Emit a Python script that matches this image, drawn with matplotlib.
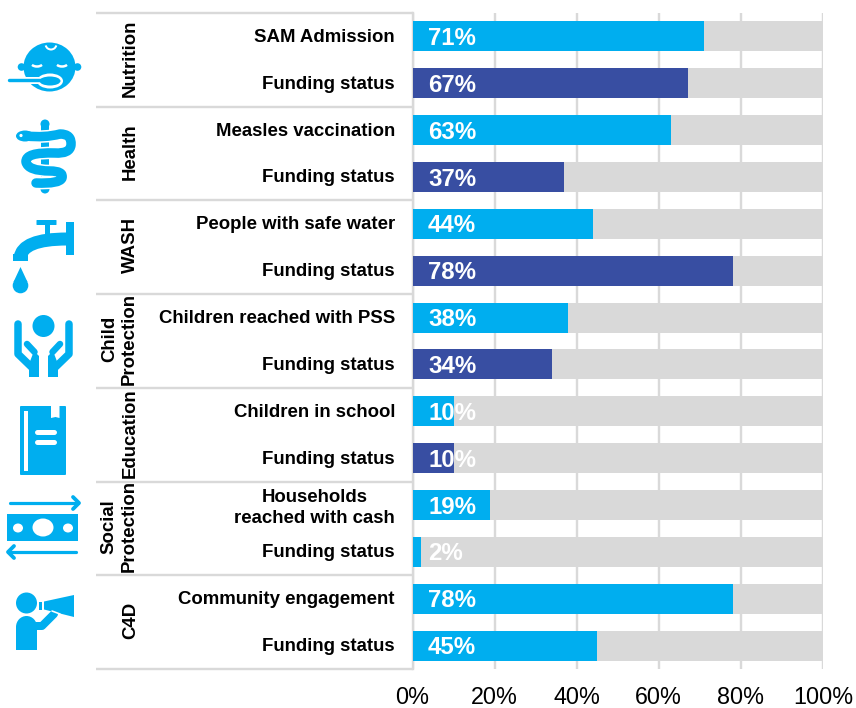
import matplotlib
matplotlib.use("Agg")
import matplotlib.pyplot as plt
from matplotlib.patches import Circle, Ellipse, Polygon, Rectangle, FancyBboxPatch, PathPatch, Arc
from matplotlib.path import Path
from matplotlib.transforms import ScaledTranslation

plt.rcParams["font.family"] = ["Liberation Sans", "DejaVu Sans"]

# Indicator rows, top to bottom
indicators = ["SAM Admission", "Funding status", "Measles vaccination", "Funding status",
              "People with safe water", "Funding status", "Children reached with PSS", "Funding status",
              "Children in school", "Funding status", "Households\nreached with cash", "Funding status",
              "Community engagement", "Funding status"]
values = [71, 67, 63, 37, 44, 78, 38, 34, 10, 10, 19, 2, 78, 45]
sectors = ["Nutrition", "Health", "WASH", "Child\nProtection", "Education", "Social\nProtection", "C4D"]
xticks = [0, 20, 40, 60, 80, 100]

CYAN = "#00AEEF"
NAVY = "#384EA2"
GRAY = "#D9D9D9"
bar_colors = [CYAN, NAVY, CYAN, NAVY, CYAN, NAVY, CYAN, NAVY, CYAN, NAVY, CYAN, CYAN, CYAN, CYAN]

W, H = 856, 708
fig = plt.figure(figsize=(W / 100, H / 100), dpi=100, facecolor="white")
left, right, top, bottom = 412.5, 823.0, 13.0, 669.0
ax = fig.add_axes([left / W, 1 - bottom / H, (right - left) / W, (bottom - top) / H])


def px(n):
    """Pixels to points at this figure's resolution."""
    return n * 0.72


rows = list(range(len(values)))
ax.barh(rows, [100] * len(rows), height=0.64, color=GRAY, zorder=2)
ax.barh(rows, values, height=0.64, color=bar_colors, zorder=3)
ax.set_xlim(0, 100)
ax.set_ylim(len(rows) - 0.5, -0.5)

ax.set_xticks(xticks)
ax.set_xticklabels([f"{t}%" for t in xticks], fontsize=16.8, color="black")
ax.tick_params(axis="x", length=0, pad=px(16.5))
ax.grid(axis="x", color=GRAY, linewidth=px(2.4), zorder=1)
ax.set_axisbelow(True)
for spine in ax.spines.values():
    spine.set_visible(False)

# Row labels, right aligned against the bars
ax.set_yticks(rows)
ax.set_yticklabels(indicators, fontsize=13.4, fontweight="bold", multialignment="center", linespacing=1.3)
ax.tick_params(axis="y", length=0, pad=px(17.5))
nudge = ScaledTranslation(0, 1 / 100, fig.dpi_scale_trans)
for label in ax.get_yticklabels():
    label.set_transform(label.get_transform() + nudge)

# Percentages sit at a fixed offset from the bar origin
for r, v in zip(rows, values):
    ax.annotate(f"{v}%", xy=(0, r), xytext=(px(15.5), px(-2)), textcoords="offset points",
                ha="left", va="center", color="white", fontsize=17.3, fontweight="bold", zorder=5)

# Sector separators and rotated sector names
tr = ax.get_yaxis_transform()
rule_start = (96 - left) / (right - left)
for b in [-0.5 + 2 * i for i in range(len(sectors) + 1)]:
    ax.plot([rule_start, 0], [b, b], transform=tr, color=GRAY, lw=px(2.4), clip_on=False,
            solid_capstyle="butt", zorder=1)
ax.plot([0, 0], [-0.5, len(rows) - 0.5], transform=tr, color=GRAY, lw=px(2.4), clip_on=False, zorder=1)
label_x = (130.5 - left) / (right - left)
label_x2 = (119.5 - left) / (right - left)
for i, name in enumerate(sectors):
    ax.text(label_x2 if "\n" in name else label_x, 0.457 + 2 * i, name, transform=tr, rotation=90,
            ha="center", va="center", fontsize=13.4, fontweight="bold", multialignment="center",
            linespacing=1.25, clip_on=False)

# Sector pictograms, drawn on an overlay in pixel units
ov = fig.add_axes([0, 0, 1, 1], facecolor="none")
ov.set_xlim(0, W)
ov.set_ylim(H, 0)
ov.axis("off")


def stroke(points, width, color=CYAN, z=2, curved=False, cap="round"):
    if curved:
        codes = [Path.MOVETO] + [Path.CURVE3] * (len(points) - 1)
        p = Path(points, codes)
    else:
        p = Path(points)
    ov.add_patch(PathPatch(p, fill=False, edgecolor=color, lw=px(width), capstyle=cap,
                           joinstyle="round", zorder=z))


def fill(patch, color=CYAN, z=1):
    patch.set(facecolor=color, edgecolor="none", zorder=z)
    ov.add_patch(patch)


# Nutrition: baby with spoon
fill(Ellipse((49.5, 67), 52, 49))
fill(Circle((21.5, 67), 3.8))
fill(Circle((77.5, 67), 3.8))
ov.add_patch(Arc((51, 44), 11, 11, theta1=15, theta2=165, edgecolor="white", lw=px(2), zorder=2))
ov.add_patch(Arc((37, 62), 13, 9, theta1=30, theta2=150, edgecolor="white", lw=px(2.5), zorder=2))
ov.add_patch(Arc((62, 62), 13, 9, theta1=30, theta2=150, edgecolor="white", lw=px(2.5), zorder=2))
fill(Ellipse((50, 81), 26, 15), "white", 2)
stroke([(7, 80), (45, 80)], 7, "white", 2, cap="butt")
fill(Ellipse((50, 81), 21, 9), CYAN, 3)
stroke([(9, 80), (50, 80)], 3.4, CYAN, 3)

# Health: rod with serpent
fill(Rectangle((41, 124), 8, 66))
fill(Circle((45, 124), 4.5))
fill(Circle((45, 189), 4.5))
snake = [(26, 136), (45, 138), (60, 134), (72, 134), (71, 145), (70, 154), (55, 153),
         (25, 152), (26, 162), (28, 171), (50, 171), (64, 171), (62, 178), (60, 184), (36, 183)]
stroke(snake, 12.5, "white", 2, curved=True)
stroke(snake, 9.5, CYAN, 3, curved=True)
fill(Ellipse((25, 136), 18, 11), CYAN, 4)
fill(Circle((21, 135.5), 1.6), "white", 5)

# WASH: tap and drop
fill(Rectangle((66, 222), 8, 33), CYAN, 2)
fill(FancyBboxPatch((37, 220.5), 19, 4, boxstyle="round,pad=0.5"))
fill(Rectangle((45, 224), 5, 10))
stroke([(67, 239), (22, 239), (20, 258)], 13, CYAN, 1, curved=True, cap="butt")
fill(Rectangle((13, 254), 15, 7))
fill(Circle((20.5, 285.5), 7.8))
fill(Polygon([(20.5, 267), (13.5, 282), (27.5, 282)]))

# Child Protection: figure held by two hands
fill(Circle((43.5, 326), 11))
for mirror in (False, True):
    def mx(x):
        return 87 - x if mirror else x
    stroke([(mx(18), 324), (mx(18), 354), (mx(33.5), 369)], 7.5)
    stroke([(mx(27), 344), (mx(34.5), 352)], 6.5)
    fill(Polygon([(mx(29), 364), (mx(29), 377), (mx(39), 377), (mx(39), 356), (mx(34), 351)]))

# Education: closed book with ribbon
fill(FancyBboxPatch((21, 407), 44, 67, boxstyle="round,pad=1"))
fill(Rectangle((24.5, 411), 3.5, 60), "white", 2)
fill(Polygon([(51, 405), (59.5, 405), (59.5, 418), (55.5, 417), (51, 418)]), "white", 2)
stroke([(37, 432), (54.5, 432)], 5, "white", 2)
stroke([(37, 441.5), (54.5, 441.5)], 5, "white", 2)

# Social Protection: banknote between two arrows
fill(Rectangle((7.5, 514), 71, 27))
fill(Ellipse((43, 527.5), 21, 18), "white", 2)
fill(Ellipse((18, 528), 10, 9), "white", 2)
fill(Ellipse((68, 528), 10, 9), "white", 2)
stroke([(10, 503), (78, 503)], 3.2)
stroke([(73, 497), (79, 503), (73, 509)], 3.8)
stroke([(76, 552), (8, 552)], 3.2)
stroke([(14, 546), (8, 552), (14, 558)], 3.8)

# C4D: speaker with megaphone
fill(Circle((26.5, 603), 10.5))
fill(Ellipse((26.5, 627), 21, 22))
fill(Rectangle((16, 627), 21, 23))
fill(Polygon([(44, 601.5), (74, 595), (74, 617), (44, 609.5)]))
fill(Rectangle((39.5, 602), 2.5, 7.5))
stroke([(34, 626), (42, 626), (54, 614)], 8, CYAN, 1)
stroke([(52, 611), (60, 614)], 1.6, "white", 2)

fig.savefig("out.png", dpi=100)
